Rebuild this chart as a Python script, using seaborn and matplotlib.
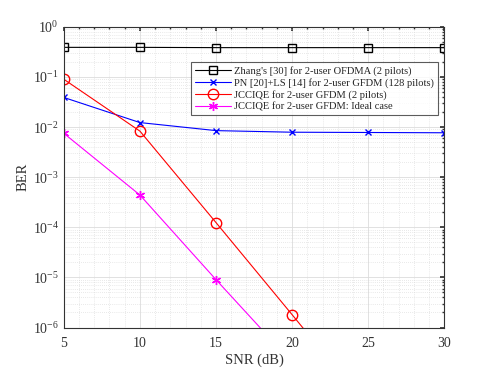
import matplotlib.pyplot as plt
import matplotlib.ticker as mticker
import numpy as np
import pandas as pd
import seaborn as sns

sns.set_theme(style="white")
plt.rcParams["font.family"] = ["Liberation Serif", "DejaVu Serif"]
plt.rcParams["mathtext.fontset"] = "stix"

snr = [5, 10, 15, 20, 25, 30]
zhang = [0.39, 0.39, 0.385, 0.385, 0.385, 0.385]
pn_ls = [0.039, 0.0123, 0.0085, 0.0079, 0.0078, 0.0077]
jcciqe = [0.09, 0.0083, 1.24e-4, 1.8e-6, 2.5e-8, 3.5e-10]
ideal = [0.0075, 4.4e-4, 9e-6, 2e-7, 4e-9, 8e-11]

labels = [
    "Zhang's [30] for 2-user OFDMA (2 pilots)",
    "PN [20]+LS [14] for 2-user GFDM (128 pilots)",
    "JCCIQE for 2-user GFDM (2 pilots)",
    "JCCIQE for 2-user GFDM: Ideal case",
]
colors = ["black", "blue", "red", "magenta"]
markers = ["s", "x", "o", (6, 2, 0)]
msizes = [5.5, 5, 7.5, 6.5]

df = pd.DataFrame({"snr": snr * 4,
                   "ber": zhang + pn_ls + jcciqe + ideal,
                   "curve": np.repeat(labels, len(snr))})

fig, ax = plt.subplots(figsize=(4.91, 3.68), dpi=100)
fig.subplots_adjust(left=0.13, right=0.905, top=0.927, bottom=0.11)

for lab, c, m, ms in zip(labels, colors, markers, msizes):
    sub = df[df["curve"] == lab]
    sns.lineplot(data=sub, x="snr", y="ber", ax=ax, color=c, marker=m,
                 markersize=ms, markerfacecolor="none", markeredgecolor=c,
                 markeredgewidth=1.0, linewidth=0.8, label=lab)

ax.set_yscale("log")
ax.set_xlim(5, 30)
ax.set_ylim(1e-6, 1)
ax.set_xticks([5, 10, 15, 20, 25, 30])
ax.xaxis.set_minor_locator(mticker.MultipleLocator(1))
ax.yaxis.set_minor_locator(mticker.LogLocator(base=10, subs=np.arange(2, 10)))
ax.yaxis.set_minor_formatter(mticker.NullFormatter())
ax.grid(which="major", color="#dcdcdc", linewidth=0.6)
ax.grid(which="minor", color="#d4d4d4", linewidth=0.5, linestyle=(0, (1, 2)))
ax.tick_params(which="both", direction="in", top=True, right=True, color="#333333")
ax.tick_params(which="major", length=3, labelsize=10, colors="#333333")
ax.tick_params(axis="x", which="major", pad=7)
ax.tick_params(which="minor", length=1.5)
for s in ax.spines.values():
    s.set_color("#333333")
    s.set_linewidth(0.8)

ax.set_xlabel("SNR (dB)", fontsize=10.5, color="#333333", labelpad=2)
ax.set_ylabel("BER", fontsize=10.5, color="#333333", labelpad=2)

leg = ax.legend(loc="upper right", bbox_to_anchor=(0.982, 0.883), fontsize=7.6,
                frameon=True, fancybox=False, edgecolor="#333333",
                borderpad=0.35, labelspacing=0.2, handlelength=3.4,
                handletextpad=0.3, borderaxespad=0)
leg.get_frame().set_linewidth(0.8)

fig.savefig("out.png", dpi=100)
